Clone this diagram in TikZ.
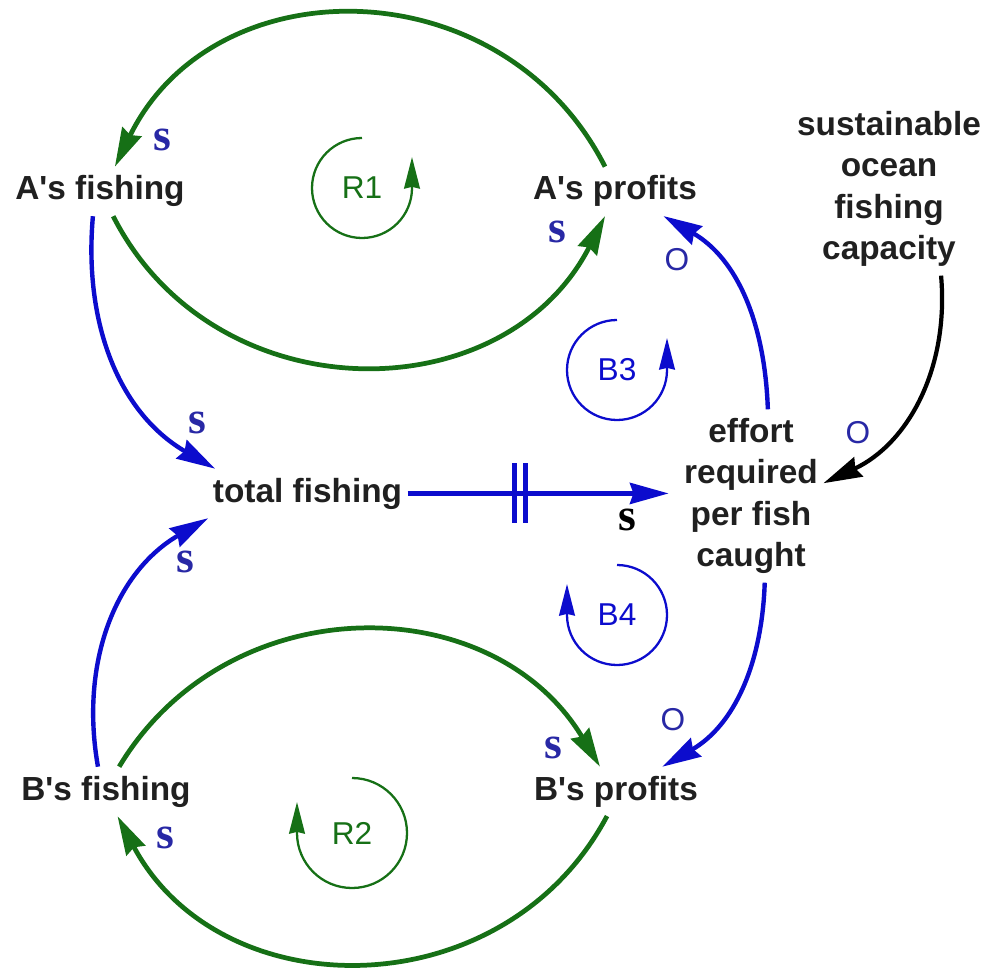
\documentclass[tikz,border=0pt]{standalone}
\usepackage{fontspec}
\setmainfont{Liberation Sans}
\newfontfamily\polfont{Liberation Serif}
\usetikzlibrary{arrows.meta}
\definecolor{loopgreen}{RGB}{22,112,22}
\definecolor{linkblue}{RGB}{12,12,205}
\definecolor{polblue}{RGB}{40,40,165}
\definecolor{txtgray}{RGB}{32,32,32}
\tikzset{
  var/.style = {font=\fontsize{19}{23.5}\selectfont\bfseries, text=txtgray,
    align=center, inner xsep=3pt, inner ysep=5pt},
  bigtip/.style = {-{Stealth[length=22pt, width=12pt, inset=2pt]}},
  glink/.style = {draw=loopgreen, line width=2.7pt, bigtip},
  blink/.style = {draw=linkblue, line width=2.5pt, bigtip},
  klink/.style = {draw=black, line width=2.4pt, bigtip},
  pols/.style = {font=\polfont\fontsize{26}{26}\selectfont\bfseries, text=polblue, inner sep=0pt},
  polo/.style = {font=\fontsize{18}{18}\selectfont, text=polblue, inner sep=0pt},
  loopname/.style = {font=\fontsize{18}{18}\selectfont},
  loopring/.style = {line width=1.3pt, -{Stealth[length=18pt, width=9pt, inset=1pt]}}
}
\begin{document}
\begin{tikzpicture}[x=0.02cm, y=0.02cm]
  \useasboundingbox (0, 0) rectangle (989, 968);

  \node [var, anchor=base] (afish) at (100, 768) {A\textquotesingle s fishing};
  \node [var, anchor=base] (aprof) at (615, 768) {A\textquotesingle s profits};
  \node [var] (cap) at (889, 779) {sustainable\\ocean\\fishing\\capacity};
  \node [var, anchor=base] (total) at (307.5, 466) {total fishing};
  \node [var] (effort) at (751, 472) {effort\\required\\per fish\\caught};
  \node [var, anchor=base] (bfish) at (106, 168) {B\textquotesingle s fishing};
  \node [var, anchor=base] (bprof) at (616, 168) {B\textquotesingle s profits};

  \draw [glink, looseness=1.18] (aprof.112) to [out=117, in=64] (afish.59);
  \draw [glink, looseness=1.16] (afish.-62) to [out=-63, in=-117] (aprof.-112);
  \draw [glink, looseness=1.12] (bfish.62) to [out=59, in=121] (bprof.123);
  \draw [glink, looseness=1.15] (bprof.-110) to [out=-118, in=-62] (bfish.-65);

  \draw [blink] (afish.-106) to [out=-95, in=150] (total.165);
  \draw [blink] (bfish.108) to [out=100, in=210] (total.194);
  \draw [blink] (effort.79) to [out=92, in=-30] (aprof.-27);
  \draw [blink] (effort.-81) to [out=-92, in=30] (bprof.28);
  \draw [klink] (cap.-59) to [out=-85, in=25] (effort.10);

  \draw [blink] (total.east) -- ([xshift=-0.2cm]total.east -| effort.west)
    coordinate [pos=0.43] (dly);
  \draw [linkblue, line width=3.2pt] ([xshift=-0.11cm]dly) ++(0, 30) -- ++(0, -60);
  \draw [linkblue, line width=3.2pt] ([xshift=0.11cm]dly) ++(0, 30) -- ++(0, -60);

  \node [pols] (pa1) at (162, 828) {s};
  \node [pols] (pa2) at (557, 736) {s};
  \node [polo] (pa3) at (677, 708) {O};
  \node [pols] (pt1) at (197, 545) {s};
  \node [pols] (pt2) at (185, 406) {s};
  \node [pols, text=black] (pe1) at (627, 448) {s};
  \node [polo] (pe2) at (858, 535) {O};
  \node [pols] (pb1) at (553, 220) {s};
  \node [polo] (pb2) at (673, 248) {O};
  \node [pols] (pb3) at (165, 130) {s};

  \node [loopname, text=loopgreen] (r1) at (362, 780) {R1};
  \draw [loopring, loopgreen] (r1.center) ++(90:50) arc [start angle=90, end angle=360, radius=50] -- ++(0, 31);
  \node [loopname, text=linkblue] (b3) at (617, 598) {B3};
  \draw [loopring, linkblue] (b3.center) ++(90:50) arc [start angle=90, end angle=360, radius=50] -- ++(0, 32);
  \node [loopname, text=linkblue] (b4) at (617, 353) {B4};
  \draw [loopring, linkblue] (b4.center) ++(90:50) arc [start angle=90, end angle=-180, radius=50] -- ++(0, 31);
  \node [loopname, text=loopgreen] (r2) at (352, 135) {R2};
  \draw [loopring, loopgreen] (r2.center) ++(90:55) arc [start angle=90, end angle=-180, radius=55] -- ++(0, 31);
\end{tikzpicture}
\end{document}
